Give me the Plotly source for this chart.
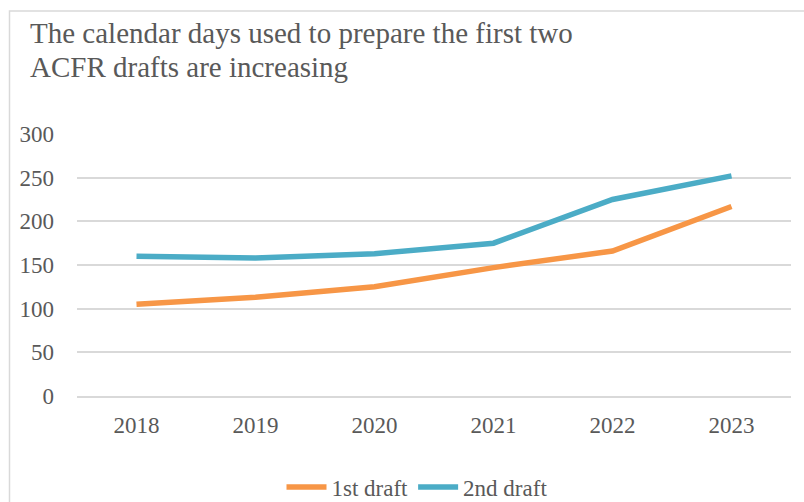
import plotly.graph_objects as go

years = ["2018", "2019", "2020", "2021", "2022", "2023"]
first_draft = [105, 113, 125, 147, 166, 217]
second_draft = [160, 158, 163, 175, 225, 252]
y_ticks = [0, 50, 100, 150, 200, 250, 300]
title_lines = ["The calendar days used to prepare the first two", "ACFR drafts are increasing"]

W, H = 804, 502
L, R, T, B = 77, 13, 134, 106
PW, PH = W - L - R, H - T - B

def px_x(p):
    return (p - L) / PW

def px_y(p):
    return (H - B - p) / PH

FONT = "Liberation Serif"
GRAY = "#595959"
GRID = "#d9d9d9"

fig = go.Figure()
fig.add_trace(go.Scatter(x=years, y=first_draft, name="1st draft", mode="lines",
                         line=dict(color="#F79646", width=5.5)))
fig.add_trace(go.Scatter(x=years, y=second_draft, name="2nd draft", mode="lines",
                         line=dict(color="#4BACC6", width=5.5)))

for i, t in enumerate(title_lines):
    fig.add_annotation(text=t, xref="paper", yref="paper", x=px_x(28), y=px_y(32.5 + 34.5 * i),
                       xanchor="left", yanchor="middle", showarrow=False,
                       font=dict(family=FONT, size=29, color=GRAY))

fig.add_shape(type="rect", xref="paper", yref="paper", x0=px_x(9.5), y0=px_y(11),
              x1=px_x(900), y1=px_y(600), line=dict(color=GRID, width=1.5),
              fillcolor="rgba(0,0,0,0)", layer="below")

fig.update_layout(
    width=W, height=H,
    margin=dict(l=L, r=R, t=T, b=B, pad=0, autoexpand=False),
    paper_bgcolor="white", plot_bgcolor="white",
    font=dict(family=FONT, color=GRAY, size=23),
    showlegend=True,
    legend=dict(orientation="h", xref="container", yref="container",
                x=417 / W, y=1 - 487 / H, xanchor="center", yanchor="middle",
                font=dict(family=FONT, size=23, color=GRAY), bgcolor="rgba(0,0,0,0)",
                itemwidth=40, tracegroupgap=0),
)
fig.update_xaxes(type="category", range=[-0.5, 5.5], showgrid=False, showline=True,
                 linecolor=GRID, linewidth=1.5,
                 ticks="", ticklabelstandoff=8, tickfont=dict(family=FONT, size=23, color=GRAY),
                 zeroline=False)
fig.update_yaxes(range=[0, 300], tickvals=y_ticks, showgrid=True, gridcolor=GRID, gridwidth=1.5,
                 zeroline=False, showline=False, ticks="", ticklabelstandoff=22,
                 tickfont=dict(family=FONT, size=23, color=GRAY))

fig.write_html("out.html")
